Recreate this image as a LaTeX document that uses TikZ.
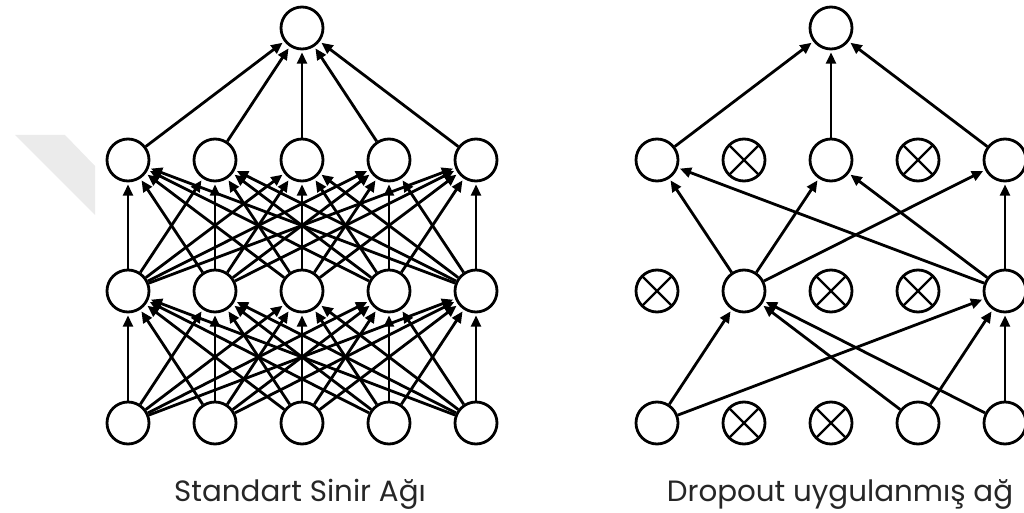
\documentclass[tikz,border=0pt]{standalone}
\usepackage{fontspec}
\setmainfont{Poppins}
\usetikzlibrary{arrows.meta}
\begin{document}
\begin{tikzpicture}[x=0.75pt,y=-0.75pt,
  neuron/.style={circle,draw=black,line width=2.1pt,minimum size=31.5pt,inner sep=0pt,fill=white},
  dropped/.style={neuron,path picture={\draw[line width=1.7pt]
      (path picture bounding box.north west)--(path picture bounding box.south east)
      (path picture bounding box.north east)--(path picture bounding box.south west);}},
  conn/.style={line width=2.1pt,-{Triangle[length=8.5pt,width=7.5pt]},shorten >=1.5pt},
  caption/.style={font=\fontsize{22}{26}\selectfont,text=black!85,anchor=base}]
\useasboundingbox (0,0) rectangle (1024,513);
\clip (0,0) rectangle (1024,513);
% faint grey mark at the left edge
\fill[black!8] (15,135) -- (65,135) -- (95,166) -- (95,215) -- cycle;

% ---------- standard network ----------
\foreach \i in {1,...,5}{
  \pgfmathsetmacro{\x}{128+87*(\i-1)}
  \node[neuron] (ai\i) at (\x,423) {};
  \node[neuron] (ah\i) at (\x,291) {};
  \node[neuron] (ag\i) at (\x,160) {};
}
\node[neuron] (ao) at (302,28) {};
\foreach \i in {1,...,5}{
  \foreach \j in {1,...,5}{
    \draw[conn] (ai\i) -- (ah\j);
    \draw[conn] (ah\i) -- (ag\j);
  }
  \draw[conn] (ag\i) -- (ao);
}
\node[caption] (acap) at (300,501) {Standart Sinir Ağı};

% ---------- network with dropout ----------
\foreach \i/\s in {1/neuron,2/dropped,3/dropped,4/neuron,5/neuron}{
  \pgfmathsetmacro{\x}{657+87*(\i-1)}
  \node[\s] (bi\i) at (\x,423) {};
}
\foreach \i/\s in {1/dropped,2/neuron,3/dropped,4/dropped,5/neuron}{
  \pgfmathsetmacro{\x}{657+87*(\i-1)}
  \node[\s] (bh\i) at (\x,291) {};
}
\foreach \i/\s in {1/neuron,2/dropped,3/neuron,4/dropped,5/neuron}{
  \pgfmathsetmacro{\x}{657+87*(\i-1)}
  \node[\s] (bg\i) at (\x,160) {};
}
\node[neuron] (bo) at (831,28) {};
\foreach \i in {1,3,5}{
  \draw[conn] (bg\i) -- (bo);
  \draw[conn] (bh2) -- (bg\i);
  \draw[conn] (bh5) -- (bg\i);
}
\foreach \i in {1,4,5}{
  \draw[conn] (bi\i) -- (bh2);
  \draw[conn] (bi\i) -- (bh5);
}
\node[caption] (bcap) at (840,501) {Dropout uygulanmış ağ};
\end{tikzpicture}
\end{document}
